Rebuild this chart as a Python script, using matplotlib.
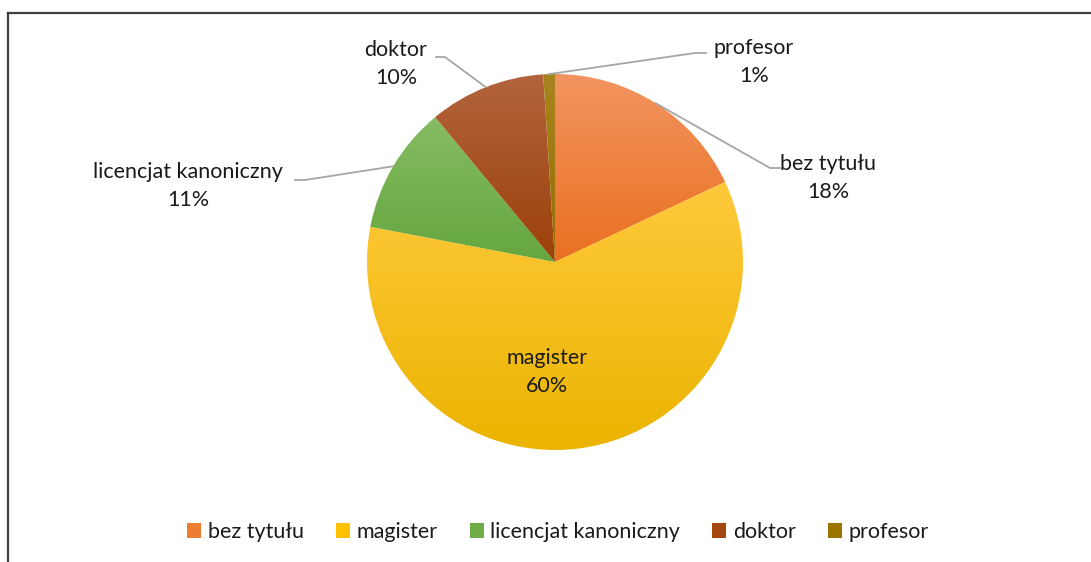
import matplotlib.pyplot as plt
import matplotlib.colors as mcolors
from matplotlib.lines import Line2D
from matplotlib.patches import Patch
import numpy as np

labels = ['bez tytułu', 'magister', 'licencjat kanoniczny', 'doktor', 'profesor']
values = [18, 60, 11, 10, 1]
top_colors = ['#F29460', '#FFC93C', '#86BC64', '#B2643E', '#A88420']
bot_colors = ['#EA7020', '#EBB400', '#64A63C', '#9C4008', '#946E00']
mid_colors = ['#ED7D31', '#FFC000', '#70AD47', '#A5480F', '#9C7500']

plt.rcParams['font.family'] = ['Lato', 'DejaVu Sans']

W, H = 1091, 562
fig = plt.figure(figsize=(W / 100, H / 100), dpi=100)
ax = fig.add_axes([0, 0, 1, 1])

cx, cy, r = 555, 300, 188

wedges, _ = ax.pie(values, startangle=90, counterclock=False, center=(cx, cy),
                   radius=r, frame=True, wedgeprops=dict(linewidth=0))
ax.set_xlim(0, W)
ax.set_ylim(0, H)
ax.set_aspect('equal')
ax.axis('off')

# vertical gradient for every slice, lighter on top
inv = ax.transData.inverted()
for w, c1, c2 in zip(wedges, top_colors, bot_colors):
    w.set_facecolor('none')
    bb = w.get_window_extent()
    (x0, y0), (x1, y1) = inv.transform([[bb.x0, bb.y0], [bb.x1, bb.y1]])
    cmap = mcolors.LinearSegmentedColormap.from_list('g', [c2, c1])
    grad = np.linspace(0, 1, 256).reshape(-1, 1)
    im = ax.imshow(grad, cmap=cmap, extent=(x0, x1, y0, y1), origin='lower',
                   aspect='auto', zorder=1)
    im.set_clip_path(w)

ax.set_xlim(0, W)
ax.set_ylim(0, H)

# outside labels with leader lines
fs = 15.5
ls = 1.55
cum = np.cumsum([0] + values[:-1])
total = sum(values)
outside = {
    0: dict(elbow=(770, 394), end=(780, 394), text=(828, 384)),
    2: dict(elbow=(305, 382), end=(295, 382), text=(188, 376)),
    3: dict(elbow=(445, 505), end=(436, 505), text=(396, 498)),
    4: dict(elbow=(695, 509), end=(706, 509), text=(754, 500)),
}
for i, o in outside.items():
    mid = (cum[i] + values[i] / 2) / total
    ang = np.deg2rad(90 - mid * 360)
    sx, sy = cx + r * np.cos(ang), cy + r * np.sin(ang)
    ax.add_line(Line2D([sx, o['elbow'][0], o['end'][0]],
                       [sy, o['elbow'][1], o['end'][1]],
                       color='#A6A6A6', lw=1.3, zorder=3))
    ax.text(o['text'][0], o['text'][1], f'{labels[i]}\n{values[i]}%',
            ha='center', va='center', fontsize=fs, color='#1a1a1a',
            linespacing=ls, zorder=4)

ax.text(547, H - 372, f'{labels[1]}\n{values[1]}%', ha='center', va='center',
        fontsize=fs, color='#1a1a1a', linespacing=ls, zorder=4)

# legend
handles = [Patch(facecolor=c, edgecolor='none') for c in mid_colors]
fig.legend(handles, labels, loc='center', bbox_to_anchor=(558 / W, 1 - 532 / H),
           ncol=5, frameon=False, fontsize=fs, handlelength=0.65,
           handleheight=0.65, handletextpad=0.3, columnspacing=1.5,
           labelcolor='#1a1a1a')

# chart border (left and top only visible)
fig.add_artist(Line2D([8 / W, 8 / W], [0, 1 - 13 / H], color='#404040',
                      lw=1.6, transform=fig.transFigure))
fig.add_artist(Line2D([8 / W, 1], [1 - 13 / H, 1 - 13 / H], color='#404040',
                      lw=1.6, transform=fig.transFigure))

fig.savefig('out.png', dpi=100)
